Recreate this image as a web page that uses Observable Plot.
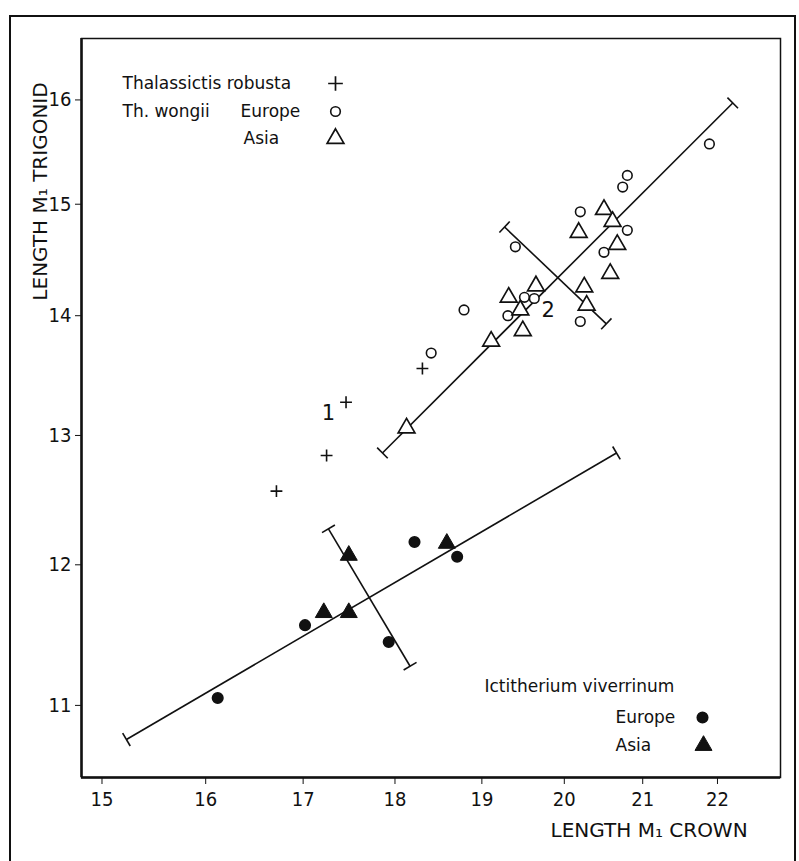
<!DOCTYPE html>
<html>
<head>
<meta charset="utf-8">
<script src="https://cdn.jsdelivr.net/npm/d3@7"></script>
<script src="https://cdn.jsdelivr.net/npm/@observablehq/plot@0.6"></script>
<style>
html, body { margin: 0; padding: 0; background: #fff; overflow: hidden; }
#wrap { position: relative; width: 799px; height: 861px; }
#border { position: absolute; left: 9px; top: 15px; width: 787px; height: 900px; border: 2px solid #111; box-sizing: border-box; pointer-events: none; }
#chart { position: absolute; left: 0; top: 0; }
</style>
</head>
<body>
<div id="wrap"><div id="chart"></div><div id="border"></div></div>
<script>
// ---------- data ----------
const xTicks = [15, 16, 17, 18, 19, 20, 21, 22];
const yTicks = [11, 12, 13, 14, 15, 16];

// Thalassictis robusta (+)
const thalX = [16.72, 17.25, 17.46, 18.31];
const thalY = [12.56, 12.84, 13.27, 13.55];

// Th. wongii Europe (open circles)
const wongEuX = [21.89, 20.80, 20.74, 20.20, 20.80, 20.50, 19.40, 19.51, 19.63, 19.31, 18.79, 20.20, 18.41];
const wongEuY = [15.57, 15.27, 15.16, 14.93, 14.76, 14.56, 14.61, 14.16, 14.15, 14.00, 14.05, 13.95, 13.68];

// Th. wongii Asia (open triangles)
const wongAsX = [20.50, 20.61, 20.18, 20.67, 20.58, 19.65, 20.25, 19.32, 19.46, 20.28, 19.49, 19.11, 18.13];
const wongAsY = [14.95, 14.84, 14.74, 14.63, 14.37, 14.26, 14.25, 14.16, 14.05, 14.09, 13.87, 13.78, 13.06];

// Ictitherium viverrinum Europe (filled circles)
const ictEuX = [16.12, 17.02, 17.93, 18.22, 18.71];
const ictEuY = [11.05, 11.56, 11.44, 12.17, 12.06];

// Ictitherium viverrinum Asia (filled triangles)
const ictAsX = [17.22, 17.49, 17.49, 18.59];
const ictAsY = [11.65, 11.65, 12.07, 12.16];

// fitted axes and perpendicular separators (end points)
const segX1 = [17.86, 19.27, 15.23, 17.27];
const segY1 = [12.86, 14.79, 10.77, 12.27];
const segX2 = [22.21, 20.53, 20.66, 18.17];
const segY2 = [15.97, 13.93, 12.86, 11.27];

// annotations
const noteText = ["1", "2"];
const noteX = [17.27, 19.80];
const noteY = [13.18, 14.05];

const legendTop = ["Thalassictis robusta", "Th. wongii", "Europe", "Asia"];
const legendBottom = ["Ictitherium viverrinum", "Europe", "Asia"];
const xLabel = "LENGTH M\u2081 CROWN";
const yLabel = "LENGTH M\u2081 TRIGONID";

// ---------- layout ----------
const W = 799, H = 861;
const mL = 81, mR = 19, mT = 38, mB = 84;
const xDomain = [14.81, 22.88];
const yDomain = [10.52, 16.62];
const ink = "#111";
const FONT = "'DejaVu Sans', 'Liberation Sans', sans-serif";
const NUMFONT = "'Liberation Sans Narrow', 'DejaVu Sans Condensed', 'Liberation Sans', sans-serif";

const zip = (xs, ys) => xs.map((x, i) => ({x, y: ys[i]}));
const thal = zip(thalX, thalY);
const wongEu = zip(wongEuX, wongEuY);
const wongAs = zip(wongAsX, wongAsY);
const ictEu = zip(ictEuX, ictEuY);
const ictAs = zip(ictAsX, ictAsY);
const segs = segX1.map((x1, i) => ({x1, y1: segY1[i], x2: segX2[i], y2: segY2[i]}));
const notes = noteText.map((t, i) => ({t, x: noteX[i], y: noteY[i]}));

// pixel-per-log-unit of the log scales, to draw perpendicular end caps
const kx = (W - mL - mR) / Math.log(xDomain[1] / xDomain[0]);
const ky = (H - mT - mB) / Math.log(yDomain[1] / yDomain[0]);
const capHalf = 7.5;
const caps = segs.flatMap(s => {
  const u1 = Math.log(s.x1), v1 = Math.log(s.y1), u2 = Math.log(s.x2), v2 = Math.log(s.y2);
  const px = kx * (u2 - u1), py = -ky * (v2 - v1);
  const L = Math.hypot(px, py);
  const nx = -py / L, ny = px / L;
  return [[u1, v1], [u2, v2]].map(([u, v]) => ({
    x1: Math.exp(u + capHalf * nx / kx), y1: Math.exp(v - capHalf * ny / ky),
    x2: Math.exp(u - capHalf * nx / kx), y2: Math.exp(v + capHalf * ny / ky)
  }));
});

const legendText = (label, dx, dy, anchor = "top-left") =>
  Plot.text([label], {frameAnchor: anchor, dx, dy, text: d => d, textAnchor: "start", lineAnchor: "middle",
    fontSize: 17, fontFamily: FONT, fill: ink});
const legendDot = (dx, dy, opts) =>
  Plot.dot([0], {frameAnchor: "top-left", dx, dy, stroke: ink, ...opts});

const chart = Plot.plot({
  width: W, height: H,
  marginLeft: mL, marginRight: mR, marginTop: mT, marginBottom: mB,
  style: {fontFamily: NUMFONT, fontSize: "20px", color: ink, background: "transparent"},
  x: {type: "log", domain: xDomain, ticks: xTicks, tickFormat: d => String(d), tickSize: 7, tickPadding: 7, label: null},
  y: {type: "log", domain: yDomain, ticks: yTicks, tickFormat: d => String(d), tickSize: 6, tickPadding: 4, label: null},
  marks: [
    Plot.frame({stroke: ink, strokeWidth: 1.5}),
    Plot.ruleX([xDomain[0]], {stroke: ink, strokeWidth: 2.5}),
    Plot.ruleY([yDomain[0]], {stroke: ink, strokeWidth: 2.5}),
    Plot.link(segs, {x1: "x1", y1: "y1", x2: "x2", y2: "y2", stroke: ink, strokeWidth: 1.6}),
    Plot.link(caps, {x1: "x1", y1: "y1", x2: "x2", y2: "y2", stroke: ink, strokeWidth: 1.6}),
    Plot.dot(thal, {x: "x", y: "y", symbol: "plus", r: 3.9, stroke: ink, strokeWidth: 1.6}),
    Plot.dot(wongEu, {x: "x", y: "y", symbol: "circle", r: 4.8, stroke: ink, fill: "white", strokeWidth: 1.6}),
    Plot.dot(wongAs, {x: "x", y: "y", symbol: "triangle2", r: 8, stroke: ink, fill: "white", strokeWidth: 1.7}),
    Plot.dot(ictEu, {x: "x", y: "y", symbol: "circle", r: 5.3, fill: ink, stroke: ink}),
    Plot.dot(ictAs, {x: "x", y: "y", symbol: "triangle", r: 6.3, fill: ink, stroke: ink, strokeWidth: 1}),
    Plot.text(notes, {x: "x", y: "y", text: "t", fontSize: 21, fontFamily: FONT, fill: ink}),
    // upper-left legend
    legendText(legendTop[0], 41, 45),
    legendDot(254, 45, {symbol: "plus", r: 4.8, strokeWidth: 1.7}),
    legendText(legendTop[1], 41, 73),
    legendText(legendTop[2], 159, 73),
    legendDot(254, 73, {symbol: "circle", r: 4.8, strokeWidth: 1.6, fill: "white"}),
    legendText(legendTop[3], 162, 100),
    legendDot(254, 100, {symbol: "triangle2", r: 8, strokeWidth: 1.7, fill: "white"}),
    // lower-right legend
    legendText(legendBottom[0], 403, 648),
    legendText(legendBottom[1], 534, 679),
    legendDot(621, 679, {symbol: "circle", r: 5.3, fill: ink}),
    legendText(legendBottom[2], 534, 707),
    legendDot(622, 707, {symbol: "triangle", r: 6.3, fill: ink, strokeWidth: 1}),
    // axis titles
    Plot.text([xLabel], {frameAnchor: "bottom-left", dx: 469, dy: 53, text: d => d, textAnchor: "start", lineAnchor: "middle",
      fontSize: 20, fontFamily: FONT, fill: ink}),
    Plot.text([yLabel], {frameAnchor: "top-left", dx: -41, dy: 153, text: d => d, textAnchor: "middle", lineAnchor: "middle",
      rotate: -90, fontSize: 20, fontFamily: FONT, fill: ink})
  ]
});
document.getElementById("chart").appendChild(chart);
</script>
</body>
</html>
